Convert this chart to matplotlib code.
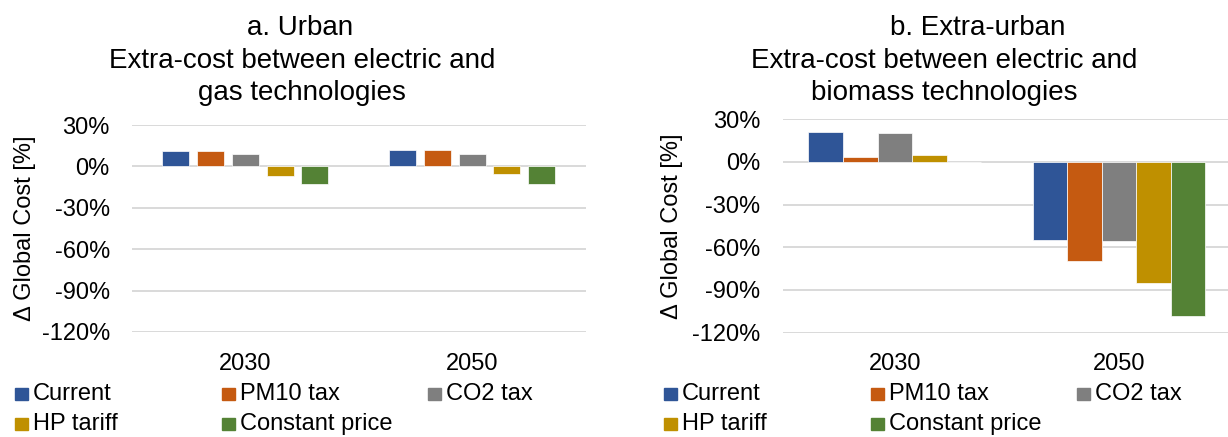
import numpy as np
import matplotlib
matplotlib.use('Agg')
import matplotlib.pyplot as plt
from matplotlib.patches import Rectangle
from matplotlib.ticker import FuncFormatter

plt.rcParams['font.family'] = ['Liberation Sans', 'DejaVu Sans']
plt.rcParams['axes.unicode_minus'] = False

years = ['2030', '2050']
scenarios = ['Current', 'PM10 tax', 'CO2 tax', 'HP tariff', 'Constant price']
colors = ['#2F5597', '#C55A11', '#7F7F7F', '#BF9000', '#548235']

# extra-cost [%] per scenario, one value per year (2030, 2050)
urban_current = [11.4, 11.6]
urban_pm10 = [11.4, 11.6]
urban_co2 = [8.9, 8.9]
urban_hp = [-6.7, -5.8]
urban_const = [-12.5, -12.5]

extra_current = [20.8, -54.6]
extra_pm10 = [3.8, -69.9]
extra_co2 = [20.3, -55.3]
extra_hp = [4.7, -85.4]
extra_const = [0.0, -108.7]

urban = [urban_current, urban_pm10, urban_co2, urban_hp, urban_const]
extra = [extra_current, extra_pm10, extra_co2, extra_hp, extra_const]

W, H = 1228, 437
fig = plt.figure(figsize=(W / 100, H / 100), dpi=100)


def px_box(x0, y_top, x1, y_bot):
    # pixel box (top-left origin) -> figure fraction rect
    return [x0 / W, 1 - y_bot / H, (x1 - x0) / W, (y_bot - y_top) / H]


def draw_panel(ax, data, pitch, width):
    x = np.arange(len(years))
    for i, vals in enumerate(data):
        ax.bar(x + (i - 2) * pitch, vals, width=width, color=colors[i],
               edgecolor='white', linewidth=0.5, label=scenarios[i], zorder=3)
    ax.set_xlim(-0.5, 1.5)
    ax.set_ylim(-120, 30)
    ax.set_yticks(np.arange(-120, 31, 30))
    ax.yaxis.set_major_formatter(FuncFormatter(lambda v, p: f'{v:.0f}%'))
    ax.set_xticks(x)
    ax.set_xticklabels(years)
    ax.tick_params(axis='both', length=0, labelsize=17)
    ax.tick_params(axis='y', pad=16)
    ax.tick_params(axis='x', pad=15)
    ax.yaxis.grid(True, color='#D9D9D9', linewidth=1.4, zorder=0)
    ax.set_axisbelow(True)
    for s in ax.spines.values():
        s.set_visible(False)
    ax.set_ylabel('Δ Global Cost [%]', fontsize=17)


ax1 = fig.add_axes(px_box(132, 125, 585.5, 332))
draw_panel(ax1, urban, 0.1535, 0.119)
ax1.yaxis.set_label_coords(-0.212, 0.5)

ax2 = fig.add_axes(px_box(782.7, 119.3, 1231, 332.5))
draw_panel(ax2, extra, 0.154, 0.154)
ax2.yaxis.set_label_coords(-0.222, 0.5)

# titles, one line at a time
titles = [
    [('a. Urban', 300, 35), ('Extra-cost between electric and', 302, 68),
     ('gas technologies', 302, 100)],
    [('b. Extra-urban', 978, 35), ('Extra-cost between electric and', 944, 68),
     ('biomass technologies', 944, 100)],
]
for lines in titles:
    for txt, xc, yb in lines:
        fig.text(xc / W, 1 - yb / H, txt, fontsize=20, ha='center', va='baseline')

# legends below each panel
legend_cols = [15, 222, 428]
legend_rows = [394, 424]
for x_off in (0, 649):
    for k, name in enumerate(scenarios):
        col = legend_cols[k % 3] + x_off
        row = legend_rows[k // 3]
        fig.add_artist(Rectangle((col / W, 1 - (row + 6) / H), 13 / W, 12 / H,
                                 transform=fig.transFigure, color=colors[k]))
        fig.text((col + 18) / W, 1 - row / H, name, fontsize=17,
                 ha='left', va='center')

fig.savefig('out.png', dpi=100)
